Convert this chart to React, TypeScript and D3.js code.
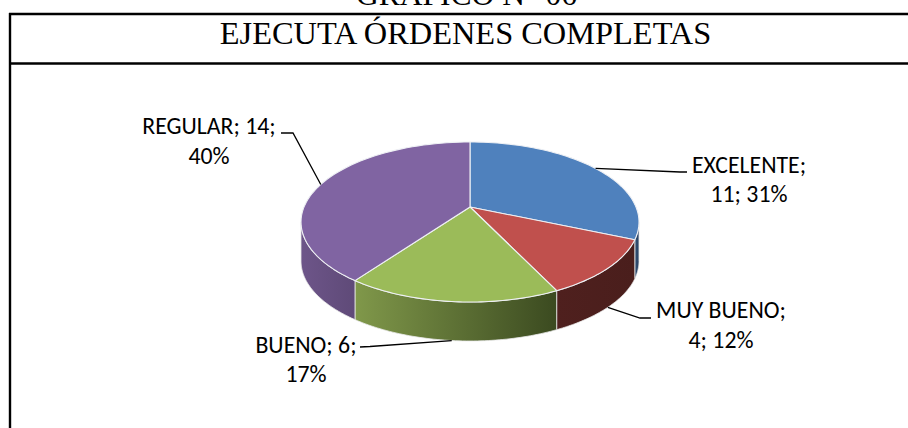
import React from "react";
import * as d3 from "d3";

const categories = ["EXCELENTE", "MUY BUENO", "BUENO", "REGULAR"];
const values = [11, 4, 6, 14];
const topColors = ["#4f81bd", "#c0504d", "#9bbb59", "#8064a2"];
const wallStart = ["#2f4d71", "#4f201e", "#80984a", "#6d5589"];
const wallEnd = ["#2a4466", "#4a1e1c", "#3b4a20", "#5f4a78"];
const labelLines = [["EXCELENTE;", "11; 31%"], ["MUY BUENO;", "4; 12%"], ["BUENO; 6;", "17%"], ["REGULAR; 14;", "40%"]];
const labelCenter = [749, 721, 306, 209];
const labelBase = [172.5, 318, 352.5, 134];
const leaderElbow = [[680, 172], [640, 318], [370, 346.5], [293, 133]];
const leaderEnd = [[687, 172], [651, 318], [360, 347], [281, 133]];

const CX = 470, CY = 207, A = 166, B = 77.2, K = 0.1875, DEPTH = 39;
const project = (t: number, dy = 0): [number, number] => {
  const u = Math.sin(t), v = Math.cos(t), w = 1 + K * v;
  return [CX + (A * u) / w, CY - (B * v) / w + dy];
};
const TAN = Math.acos(-K);
const VIS0 = TAN, VIS1 = 2 * Math.PI - TAN;
const arcPts = (a: number, b: number, dy = 0) =>
  d3.range(0, 61).map((i) => project(a + ((b - a) * i) / 60, dy));
const line = d3.line();

export default function App() {
  const arcs = d3.pie<number>().sort(null)(values);
  const label = { fontFamily: "Carlito, Lato, 'Open Sans', sans-serif", fontSize: 23.8, fill: "#000" };
  return (
    <svg width={908} height={428} style={{ position: "absolute", left: 0, top: 0, background: "#fff" }}>
      <defs>
        {arcs.map((d, i) => {
          const a = Math.max(d.startAngle, VIS0), b = Math.min(d.endAngle, VIS1);
          if (b <= a) return null;
          return (
            <linearGradient key={i} id={`w${i}`} gradientUnits="userSpaceOnUse" x1={project(b)[0]} x2={project(a)[0]} y1={0} y2={0}>
              <stop offset="0" stopColor={wallStart[i]} />
              <stop offset="1" stopColor={wallEnd[i]} />
            </linearGradient>
          );
        })}
      </defs>
      <text x={466.5} y={5} textAnchor="middle" fontFamily="'Liberation Serif'" fontSize={31.5}>GRAFICO N° 06</text>
      <g stroke="#000" strokeWidth={2.4} fill="none">
        <line x1={10} x2={10} y1={13} y2={428} />
        <line x1={9} x2={908} y1={14} y2={14} />
        <line x1={9} x2={908} y1={63.5} y2={63.5} />
      </g>
      <text x={465.5} y={44} textAnchor="middle" fontFamily="'Liberation Serif'" fontSize={32.4}>EJECUTA ÓRDENES COMPLETAS</text>

      {arcs.map((d, i) => {
        const a = Math.max(d.startAngle, VIS0), b = Math.min(d.endAngle, VIS1);
        if (b <= a) return null;
        const pts = [...arcPts(a, b), ...arcPts(a, b, DEPTH).reverse()] as [number, number][];
        return <path key={i} d={line(pts) + "Z"} fill={`url(#w${i})`} stroke="#e8e8e8" strokeWidth={0.8} strokeLinejoin="round" />;
      })}
      {arcs.map((d, i) => {
        const pts = [[CX, CY], ...arcPts(d.startAngle, d.endAngle)] as [number, number][];
        return <path key={i} d={line(pts) + "Z"} fill={topColors[i]} stroke="#eef0f4" strokeWidth={1.1} strokeLinejoin="round" />;
      })}
      {arcs.map((d, i) => {
        const mid = (d.startAngle + d.endAngle) / 2;
        const onWall = mid > VIS0 && mid < VIS1;
        const pts = [project(mid, onWall ? DEPTH : 0), leaderElbow[i], leaderEnd[i]] as [number, number][];
        return <path key={i} d={line(pts)!} fill="none" stroke="#000" strokeWidth={1.3} />;
      })}
      {labelLines.map((ls, i) => (
        <g key={categories[i]}>
          {ls.map((s, j) => (
            <text key={j} {...label} x={labelCenter[i]} y={labelBase[i] + j * 29.5} textAnchor="middle">{s}</text>
          ))}
        </g>
      ))}
    </svg>
  );
}
